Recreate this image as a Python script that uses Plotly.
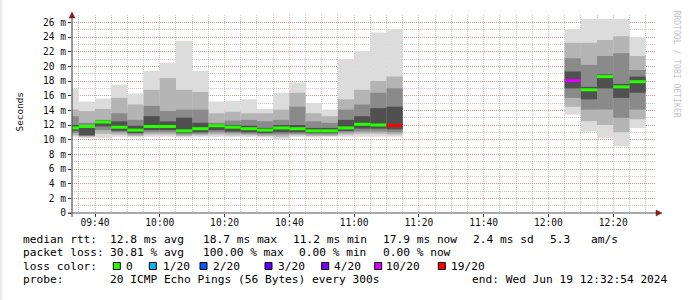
import plotly.graph_objects as go
import pandas as pd

# ---------------- data ----------------
slot_start = [
    "2024-06-19 09:30", "2024-06-19 09:35", "2024-06-19 09:40", "2024-06-19 09:45",
    "2024-06-19 09:50", "2024-06-19 09:55", "2024-06-19 10:00", "2024-06-19 10:05",
    "2024-06-19 10:10", "2024-06-19 10:15", "2024-06-19 10:20", "2024-06-19 10:25",
    "2024-06-19 10:30", "2024-06-19 10:35", "2024-06-19 10:40", "2024-06-19 10:45",
    "2024-06-19 10:50", "2024-06-19 10:55", "2024-06-19 11:00", "2024-06-19 11:05",
    "2024-06-19 11:10",
    "2024-06-19 12:05", "2024-06-19 12:10", "2024-06-19 12:15", "2024-06-19 12:20",
    "2024-06-19 12:25",
]
rtt_median = [11.6, 11.8, 12.4, 11.7, 11.3, 11.8, 11.8, 11.2, 11.5, 11.9, 11.7, 11.5, 11.3,
              11.6, 11.5, 11.2, 11.2, 11.6, 12.1, 12.0, 11.95,
              18.05, 16.8, 18.6, 17.2, 17.9]
rtt_max = [16.9, 15.2, 15.6, 17.5, 16.3, 19.4, 20.5, 23.5, 19.4, 15.2, 15.3, 15.5, 14.2,
           16.4, 17.8, 15.0, 14.1, 21.0, 22.1, 24.6, 25.1,
           25.1, 26.5, 26.5, 26.5, 24.0]
rtt_hi2 = [14.1, 13.9, 14.2, 15.7, 14.8, 16.8, 18.4, 16.8, 16.5, 13.6, 13.8, 13.6, 13.6,
           14.1, 16.4, 13.6, 13.2, 15.5, 16.8, 18.0, 18.6,
           23.2, 23.2, 23.6, 24.1, 21.4]
rtt_hi1 = [13.2, 12.3, 12.7, 13.6, 12.7, 14.6, 13.9, 14.1, 14.1, 12.3, 12.6, 12.7, 12.5,
           12.7, 14.5, 12.5, 12.3, 14.1, 14.8, 16.4, 17.0,
           21.1, 20.2, 21.4, 21.8, 19.5]
rtt_hi0 = [12.0, 12.0, 12.6, 12.5, 11.9, 13.2, 12.5, 13.0, 12.3, 12.1, 12.0, 11.9, 11.6,
           12.0, 12.0, 11.6, 11.6, 12.7, 13.2, 14.3, 14.5,
           19.3, 17.2, 18.9, 17.6, 18.6]
rtt_lo0 = [11.2, 10.6, 11.8, 11.2, 10.9, 11.3, 11.3, 10.9, 11.0, 11.3, 11.1, 11.0, 10.9,
           11.0, 11.0, 10.9, 10.9, 11.2, 11.5, 11.5, 11.4,
           17.0, 15.5, 17.0, 15.7, 16.4]
rtt_lo1 = [10.9, 10.5, 11.3, 11.0, 10.7, 11.0, 11.0, 10.7, 10.8, 11.0, 10.9, 10.8, 10.7,
           10.7, 10.8, 10.7, 10.7, 11.0, 11.1, 11.1, 11.0,
           15.7, 14.1, 14.1, 13.0, 14.1]
rtt_lo2 = [10.6, 10.4, 10.8, 10.7, 10.5, 10.7, 10.7, 10.5, 10.6, 10.7, 10.6, 10.6, 10.5,
           10.4, 10.6, 10.5, 10.5, 10.7, 10.8, 10.8, 10.7,
           14.5, 12.5, 12.0, 11.0, 12.8]
rtt_min = [10.4, 10.2, 10.2, 10.4, 10.3, 10.4, 10.4, 10.3, 10.4, 10.4, 10.4, 10.4, 10.3,
           10.0, 10.4, 10.3, 10.4, 10.4, 10.4, 10.4, 10.4,
           13.4, 11.1, 10.2, 9.1, 11.6]
loss_count = [0, 0, 0, 0, 0, 0, 0, 0, 0, 0, 0, 0, 0, 0, 0, 0, 0, 0, 0, 0, 19,
              10, 0, 0, 0, 0]

loss_levels = [0, 1, 2, 3, 4, 10, 19]
loss_labels = ["0", "1/20", "2/20", "3/20", "4/20", "10/20", "19/20"]
loss_colors = ["#26ff00", "#00b8ff", "#0059ff", "#5e00ff", "#7e00ff", "#dd00ff", "#ff0000"]

y_tick_vals = list(range(0, 27, 2))
y_tick_text = ["0"] + [f"{v} m" for v in range(2, 27, 2)]

legend_rows = [
    [("median rtt:", 22.7), ("12.8 ms avg", 110), ("18.7 ms max", 202.7), ("11.2 ms min", 292.7),
     ("17.9 ms now", 383.3), ("2.4 ms sd", 473.3), ("5.3", 550), ("am/s", 590.7)],
    [("packet loss:", 22.7), ("30.81 % avg", 110), ("100.00 % max", 202.7), ("0.00 % min", 299.3),
     ("0.00 % now", 383.3)],
    [("loss color:", 22.7)],
    [("probe:", 22.7), ("20 ICMP Echo Pings (56 Bytes) every 300s", 110),
     ("end: Wed Jun 19 12:32:54 2024", 472.3)],
]
legend_row_y = [239.3, 252.7, 266.0, 279.3]
loss_box_x = [113.3, 149.3, 200.0, 265.0, 321.7, 374.7, 438.3]
loss_text_x = [126.0, 162.5, 213.0, 277.5, 334.0, 386.0, 451.0]

# ---------------- geometry ----------------
W, H = 689, 300
PL, PR, PT, PB = 72, 655, 15, 213
def px2x(px):
    return (px - PL) / (PR - PL)
def py2y(py):
    return (PB - py) / (PB - PT)

SLOT_MS = 300 * 1000
starts = pd.to_datetime(slot_start)
ends = starts + pd.Timedelta(seconds=300)

fig = go.Figure()

bands = [
    (rtt_min, rtt_max, "#dcdcdc"),
    (rtt_lo2, rtt_hi2, "#b4b4b4"),
    (rtt_lo1, rtt_hi1, "#8a8a8a"),
    (rtt_lo0, rtt_hi0, "#505050"),
]
for lo, hi, col in bands:
    fig.add_trace(go.Bar(
        x=starts, y=[h - l for l, h in zip(lo, hi)], base=lo,
        width=SLOT_MS, offset=0, marker=dict(color=col, line=dict(width=0)),
        hoverinfo="skip", showlegend=False))

# median lines coloured by loss
for lvl, col in zip(loss_levels, loss_colors):
    xs, ys = [], []
    for s, e, m, lc in zip(starts, ends, rtt_median, loss_count):
        if lc == lvl:
            xs += [s, e, None]
            ys += [m, m, None]
    if xs:
        fig.add_trace(go.Scatter(x=xs, y=ys, mode="lines",
                                 line=dict(color=col, width=3),
                                 hoverinfo="skip", showlegend=False))

grid_minor = "rgba(143,143,143,0.5)"
grid_major = "rgba(222,79,79,0.42)"

fig.update_layout(
    width=W, height=H,
    margin=dict(l=PL, r=W - PR, t=PT, b=H - PB),
    paper_bgcolor="white", plot_bgcolor="white",
    barmode="overlay",
    showlegend=False,
    xaxis=dict(
        type="date",
        range=["2024-06-19 09:32:54", "2024-06-19 12:32:54"],
        tick0="2024-06-19 09:00:00", dtick=20 * 60 * 1000,
        tickformat="%H:%M",
        showgrid=True, gridcolor=grid_major, griddash="1px,1px", gridwidth=1,
        minor=dict(dtick=5 * 60 * 1000, showgrid=True, gridcolor=grid_minor,
                   griddash="1px,1px", gridwidth=1),
        ticks="outside", ticklen=3, tickcolor="#333", tickwidth=1,
        ticklabelstandoff=-3,
        tickfont=dict(family="DejaVu Sans Mono", size=9.6, color="#111"),
        showline=False, zeroline=False, fixedrange=True,
    ),
    yaxis=dict(
        range=[0, 27],
        tickvals=y_tick_vals, ticktext=y_tick_text,
        showgrid=True, gridcolor=grid_major, griddash="1px,1px", gridwidth=1,
        minor=dict(dtick=1, tick0=0, showgrid=True, gridcolor=grid_minor,
                   griddash="1px,1px", gridwidth=1),
        ticks="outside", ticklen=3, tickcolor="#333", tickwidth=1,
        tickfont=dict(family="DejaVu Sans Mono", size=9.6, color="#111"),
        showline=False, zeroline=False, fixedrange=True,
    ),
)

shapes = []
# left page strip
shapes.append(dict(type="rect", xref="paper", yref="paper",
                   x0=px2x(0), x1=px2x(2.5), y0=py2y(H), y1=py2y(0),
                   fillcolor="#ececec", line=dict(width=0), layer="below"))
# axis lines
shapes.append(dict(type="line", xref="paper", yref="paper",
                   x0=px2x(68), x1=px2x(657), y0=py2y(213), y1=py2y(213),
                   line=dict(color="#555555", width=1.2), layer="above"))
shapes.append(dict(type="line", xref="paper", yref="paper",
                   x0=px2x(72), x1=px2x(72), y0=py2y(217), y1=py2y(17),
                   line=dict(color="#555555", width=1.2), layer="above"))
# arrows
arrow_col = "#801f1f"
shapes.append(dict(type="path", xref="paper", yref="paper",
                   path=f"M {px2x(656)},{py2y(210)} L {px2x(662)},{py2y(213)} L {px2x(656)},{py2y(216)} Z",
                   fillcolor=arrow_col, line=dict(color=arrow_col, width=0.5), layer="above"))
shapes.append(dict(type="path", xref="paper", yref="paper",
                   path=f"M {px2x(69)},{py2y(18)} L {px2x(72)},{py2y(12)} L {px2x(75)},{py2y(18)} Z",
                   fillcolor=arrow_col, line=dict(color=arrow_col, width=0.5), layer="above"))
# loss colour boxes in the legend
for bx, col in zip(loss_box_x, loss_colors):
    yc = legend_row_y[2]
    shapes.append(dict(type="rect", xref="paper", yref="paper",
                       x0=px2x(bx), x1=px2x(bx + 7), y0=py2y(yc + 3.5), y1=py2y(yc - 3.5),
                       fillcolor=col, line=dict(color="#000000", width=1), layer="above"))
fig.update_layout(shapes=shapes)

legend_font = dict(family="DejaVu Sans Mono", size=11.2, color="#000")
annotations = []
for row, yrow in zip(legend_rows, legend_row_y):
    for txt, xpx in row:
        annotations.append(dict(text=txt, x=px2x(xpx), y=py2y(yrow), xref="paper", yref="paper",
                                xanchor="left", yanchor="middle", showarrow=False,
                                font=legend_font, borderpad=0, borderwidth=0))
for txt, xpx in zip(loss_labels, loss_text_x):
    annotations.append(dict(text=txt, x=px2x(xpx), y=py2y(legend_row_y[2]), xref="paper", yref="paper",
                            xanchor="left", yanchor="middle", showarrow=False,
                            font=legend_font, borderpad=0, borderwidth=0))
# y axis title
annotations.append(dict(text="Seconds", x=px2x(18.5), y=py2y(112), xref="paper", yref="paper",
                        xanchor="center", yanchor="middle", textangle=-90, showarrow=False,
                        font=dict(family="DejaVu Sans Mono", size=9.4, color="#111"),
                        borderpad=0, borderwidth=0))
# watermark
annotations.append(dict(text="RRDTOOL / TOBI OETIKER", x=px2x(676), y=py2y(63.5), xref="paper", yref="paper",
                        xanchor="center", yanchor="middle", textangle=90, showarrow=False,
                        font=dict(family="DejaVu Sans Mono", size=8.1, color="#c4c4c4"),
                        borderpad=0, borderwidth=0))
fig.update_layout(annotations=annotations)

fig.write_html("out.html")
